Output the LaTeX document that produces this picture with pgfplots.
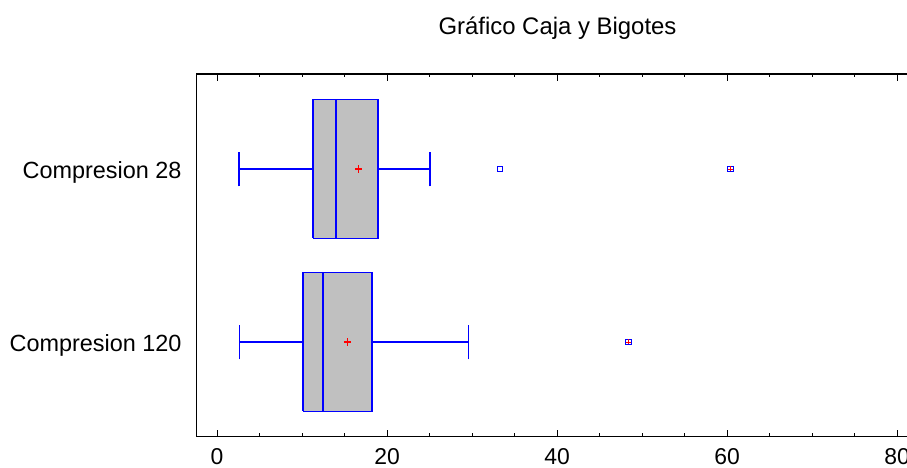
\documentclass[border=0pt]{standalone}
\usepackage{fontspec}
\setmainfont{Liberation Sans}
\usepackage{pgfplots}
\pgfplotsset{compat=1.18}
\definecolor{boxgray}{RGB}{192,192,192}
\definecolor{boxblue}{RGB}{0,0,255}
\definecolor{meanred}{RGB}{255,0,0}

% five-number summaries: lower whisker, Q1, median, Q3, upper whisker, mean
% Compresion 28  (row 2): 2.55, 11.3, 13.94, 18.94, 25.0, 16.67
% Compresion 120 (row 1): 2.63, 10.12, 12.4, 18.24, 29.57, 15.34

\begin{document}
\begin{tikzpicture}[x=1bp,y=1bp]
\begin{axis}[
  at={(0,0)}, anchor=south west,
  scale only axis, width=712.3bp, height=362.7bp,
  xmin=-2.4, xmax=81.4, ymin=0.4526, ymax=2.5491,
  axis line style={line width=1.3bp},
  xtick={0,20,40,60,80}, minor x tick num=3,
  xtick pos=both, tick align=inside,
  major tick length=7bp, minor tick length=3.5bp,
  every tick/.style={black, line width=1bp},
  ytick={1,2}, yticklabels={Compresion 120, Compresion 28},
  ytick style={draw=none},
  ytick pos=left,
  tick label style={inner sep=0pt},
  xticklabel style={font=\fontsize{23}{27}\selectfont, anchor=base, yshift=-28bp},
  yticklabel style={font=\fontsize{23.5}{27}\selectfont, anchor=base east, xshift=-15bp, yshift=-9.3bp},
  /pgf/number format/assume math mode=true,
]
% ---- Compresion 120 ----
\addplot[draw=boxblue, fill=boxgray, line width=1.3bp]
  coordinates {(10.12,0.6) (18.24,0.6) (18.24,1.4) (10.12,1.4) (10.12,0.6)};
\addplot[draw=boxblue, line width=2bp] coordinates {(12.4,0.6) (12.4,1.4)};
\addplot[draw=boxblue, line width=1.3bp] coordinates {(2.63,1) (10.12,1)};
\addplot[draw=boxblue, line width=1.3bp] coordinates {(18.24,1) (29.57,1)};
\addplot[draw=boxblue, line width=1.8bp] coordinates {(2.63,0.9) (2.63,1.1)};
\addplot[draw=boxblue, line width=1.8bp] coordinates {(29.57,0.9) (29.57,1.1)};
% ---- Compresion 28 ----
\addplot[draw=boxblue, fill=boxgray, line width=1.3bp]
  coordinates {(11.3,1.6) (18.94,1.6) (18.94,2.4) (11.3,2.4) (11.3,1.6)};
\addplot[draw=boxblue, line width=2bp] coordinates {(13.94,1.6) (13.94,2.4)};
\addplot[draw=boxblue, line width=1.3bp] coordinates {(2.55,2) (11.3,2)};
\addplot[draw=boxblue, line width=1.3bp] coordinates {(18.94,2) (25.0,2)};
\addplot[draw=boxblue, line width=1.8bp] coordinates {(2.55,1.9) (2.55,2.1)};
\addplot[draw=boxblue, line width=1.8bp] coordinates {(25.0,1.9) (25.0,2.1)};
% outside points
\addplot[only marks, mark=square, draw=boxblue, mark size=2.7bp, line width=1.1bp]
  coordinates {(33.3,2) (60.4,2) (48.4,1)};
% far outside points
\addplot[only marks, mark=+, draw=meanred, mark size=2.5bp, line width=0.8bp]
  coordinates {(60.4,2) (48.4,1)};
% means
\addplot[only marks, mark=+, draw=meanred, mark size=3.6bp, line width=1.2bp]
  coordinates {(16.67,2) (15.34,1)};
\end{axis}
\node[anchor=base, font=\fontsize{24}{28}\selectfont] at (360.8,401.7) {Gráfico Caja y Bigotes};
\pgfresetboundingbox
\path (-196.7,-31.3) rectangle (710.3,436.7);
\end{tikzpicture}
\end{document}
